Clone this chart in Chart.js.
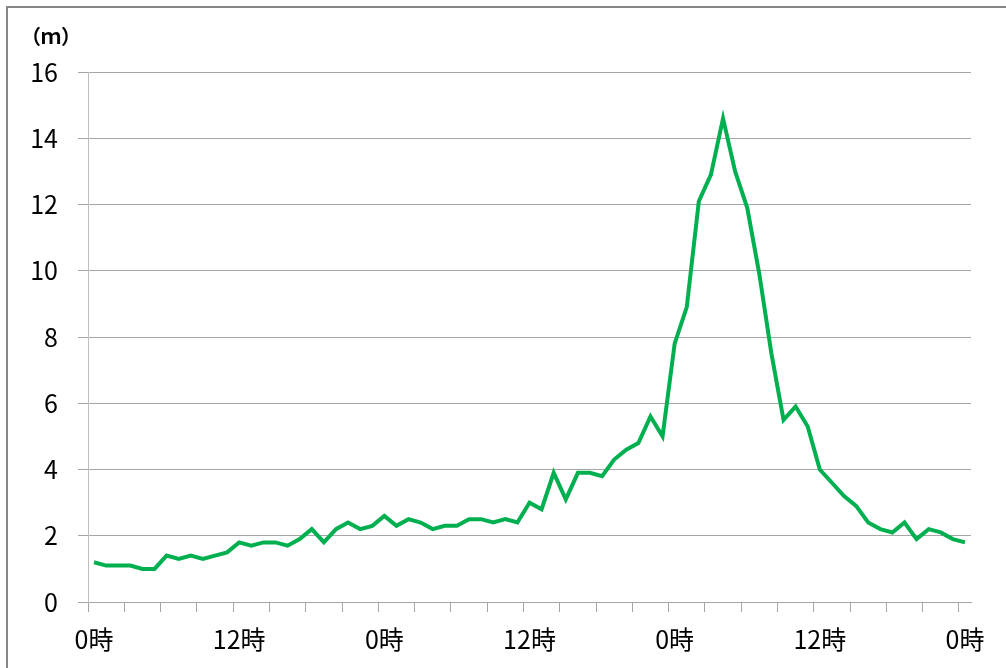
<!DOCTYPE html>
<html lang="ja">
<head>
<meta charset="utf-8">
<title>波高</title>
<script src="https://cdn.jsdelivr.net/npm/chart.js@4/dist/chart.umd.min.js"></script>
<style>
  html, body { margin: 0; padding: 0; background: #fff; }
  #wrap { width: 1006px; height: 668px; overflow: hidden; }
</style>
</head>
<body>
<div id="wrap"><canvas id="wave" width="1006" height="668"></canvas></div>
<script>
// 1時間ごとの観測値（3日分 + 1）
const waveHeight = [
    1.2, 1.1, 1.1, 1.1, 1.0, 1.0, 1.4, 1.3, 1.4, 1.3, 1.4, 1.5,
    1.8, 1.7, 1.8, 1.8, 1.7, 1.9, 2.2, 1.8, 2.2, 2.4, 2.2, 2.3,
    2.6, 2.3, 2.5, 2.4, 2.2, 2.3, 2.3, 2.5, 2.5, 2.4, 2.5, 2.4,
    3.0, 2.8, 3.9, 3.1, 3.9, 3.9, 3.8, 4.3, 4.6, 4.8, 5.6, 5.0,
    7.8, 8.9, 12.1, 12.9, 14.6, 13.0, 11.9, 9.9, 7.5, 5.5, 5.9, 5.3,
    4.0, 3.6, 3.2, 2.9, 2.4, 2.2, 2.1, 2.4, 1.9, 2.2, 2.1, 1.9,
    1.8
];
const hourLabels = waveHeight.map((_, i) => (i % 24) + '時');
const unitLabel = '（ｍ）';
const yMin = 0, yMax = 16, yStep = 2;
const labelEvery = 12;   // 0時 / 12時 だけ表示
const tickEvery = 3;     // 目盛りは3時間ごと

Chart.defaults.font.family = "'Noto Sans CJK JP', 'Noto Sans', sans-serif";
Chart.defaults.color = '#000';

// 外枠と単位
const frame = {
    id: 'frame',
    beforeDraw(chart) {
        const ctx = chart.ctx;
        ctx.save();
        ctx.strokeStyle = '#868686';
        ctx.lineWidth = 2;
        ctx.beginPath();
        ctx.moveTo(7, chart.height);
        ctx.lineTo(7, 7);
        ctx.lineTo(chart.width, 7);
        ctx.stroke();
        ctx.restore();
    },
    afterDraw(chart) {
        const ctx = chart.ctx;
        ctx.save();
        ctx.font = "bold 20px 'Noto Sans CJK JP'";
        ctx.fillStyle = '#000';
        ctx.textAlign = 'left';
        ctx.textBaseline = 'middle';
        ctx.fillText(unitLabel, 21, 36);
        ctx.restore();
    }
};

new Chart(document.getElementById('wave'), {
    type: 'line',
    data: {
        labels: hourLabels,
        datasets: [{
            data: waveHeight,
            borderColor: '#00B050',
            borderWidth: 4,
            pointRadius: 0,
            tension: 0,
            fill: false
        }]
    },
    options: {
        responsive: false,
        animation: false,
        layout: { padding: { top: 72, right: 35, bottom: 0, left: 0 } },
        plugins: {
            legend: { display: false },
            tooltip: { enabled: false }
        },
        scales: {
            x: {
                type: 'category',
                offset: true,
                afterFit: (scale) => { scale.height = 66; },
                grid: {
                    offset: true,
                    drawOnChartArea: false,
                    drawTicks: true,
                    tickLength: 10,
                    tickColor: (ctx) => ctx.index % tickEvery === 0 ? '#A6A6A6' : 'rgba(0,0,0,0)'
                },
                border: { display: true, color: '#A6A6A6', width: 1 },
                ticks: {
                    autoSkip: false,
                    maxRotation: 0,
                    minRotation: 0,
                    padding: 12,
                    font: { size: 25 },
                    callback: (val, i) => i % labelEvery === 0 ? hourLabels[i] : ''
                }
            },
            y: {
                min: yMin,
                max: yMax,
                afterFit: (scale) => { scale.width = 88; },
                grid: {
                    color: '#A6A6A6',
                    tickLength: 10,
                    drawTicks: true
                },
                border: { display: true, color: '#BFBFBF', width: 1 },
                ticks: {
                    stepSize: yStep,
                    padding: 20,
                    font: { size: 25 }
                }
            }
        }
    },
    plugins: [frame]
});
</script>
</body>
</html>
